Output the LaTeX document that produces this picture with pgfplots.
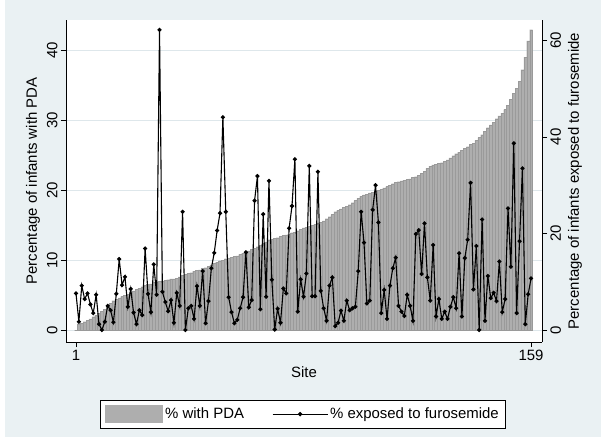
\documentclass[border=0pt]{standalone}
\usepackage{pgfplots}
\pgfplotsset{compat=1.18}
\usepackage{pgfplotstable}
\usepackage{fontspec}
\setmainfont{Liberation Sans}

\definecolor{bgblue}{RGB}{234,241,243}
\definecolor{gridc}{RGB}{222,231,235}
\definecolor{barfill}{RGB}{174,174,174}
\definecolor{baredge}{RGB}{154,154,154}

% site, % with PDA (left axis), % exposed to furosemide (right axis)
\pgfplotstableread{
site pda furo
1 0.0 7.6
2 0.9 1.7
3 1.0 9.2
4 1.2 6.4
5 1.4 7.6
6 1.6 5.3
7 1.9 3.5
8 2.1 7.3
9 2.4 1.2
10 2.7 0.0
11 3.0 1.7
12 3.4 5.0
13 3.8 4.1
14 4.2 1.6
15 4.4 7.5
16 4.6 14.7
17 4.8 9.3
18 5.0 11.0
19 5.1 4.8
20 5.4 8.5
21 5.6 3.6
22 5.8 1.2
23 6.0 4.1
24 6.2 3.1
25 6.4 16.9
26 6.5 7.5
27 6.6 3.7
28 6.8 13.6
29 6.9 7.3
30 7.0 62.2
31 7.0 7.9
32 7.1 5.8
33 7.2 3.9
34 7.3 6.2
35 7.3 1.5
36 7.4 7.7
37 7.6 5.0
38 7.8 24.5
39 8.0 0.0
40 8.1 4.5
41 8.2 5.0
42 8.4 2.3
43 8.5 9.1
44 8.6 5.0
45 8.8 12.2
46 8.9 1.4
47 9.1 6.0
48 9.3 12.8
49 9.5 16.0
50 9.7 20.6
51 9.9 24.2
52 10.0 44.1
53 10.2 24.5
54 10.3 6.8
55 10.4 3.7
56 10.5 1.4
57 10.6 2.1
58 10.8 4.5
59 11.0 6.8
60 11.1 16.1
61 11.3 4.7
62 11.5 6.2
63 11.7 26.8
64 11.9 31.9
65 12.1 4.3
66 12.4 24.0
67 12.6 6.9
68 12.9 30.9
69 13.0 10.4
70 13.1 0.1
71 13.2 4.4
72 13.4 1.5
73 13.5 8.6
74 13.6 7.6
75 13.7 21.1
76 13.9 25.7
77 14.0 35.4
78 14.2 3.8
79 14.4 10.5
80 14.6 6.9
81 14.7 11.7
82 14.8 34.0
83 15.0 7.0
84 15.1 7.0
85 15.3 32.8
86 15.4 8.1
87 15.6 4.5
88 15.9 1.9
89 16.2 9.2
90 16.5 10.9
91 16.9 0.8
92 17.1 1.5
93 17.3 4.0
94 17.5 1.9
95 17.7 6.1
96 17.9 4.1
97 18.2 4.5
98 18.5 4.8
99 18.8 12.2
100 19.1 24.5
101 19.3 18.1
102 19.4 5.5
103 19.6 6.1
104 19.7 24.9
105 19.9 30.0
106 20.0 22.3
107 20.1 3.5
108 20.3 8.3
109 20.5 2.3
110 20.7 9.2
111 20.9 12.8
112 21.1 15.0
113 21.2 5.0
114 21.3 3.8
115 21.4 2.9
116 21.5 7.3
117 21.6 5.0
118 21.8 1.9
119 21.9 19.9
120 22.1 20.7
121 22.4 11.6
122 22.7 22.1
123 23.1 10.9
124 23.4 6.1
125 23.6 17.6
126 23.7 2.8
127 23.8 6.4
128 23.9 2.3
129 24.1 3.8
130 24.3 2.3
131 24.6 4.8
132 24.9 6.8
133 25.2 4.5
134 25.4 15.9
135 25.7 2.8
136 26.0 14.9
137 26.2 18.7
138 26.5 30.5
139 26.7 8.4
140 27.1 17.4
141 27.5 0.0
142 27.9 22.9
143 28.4 1.9
144 28.9 11.2
145 29.3 6.6
146 29.7 7.7
147 30.2 6.0
148 30.6 14.2
149 31.0 3.7
150 31.5 6.4
151 32.1 25.2
152 33.0 13.1
153 33.8 38.7
154 34.5 3.5
155 35.5 18.4
156 37.2 33.5
157 39.0 1.2
158 41.3 7.4
159 42.9 10.7
}\sitedata

\begin{document}
\begin{tikzpicture}[font=\fontsize{15}{18}\selectfont]
\fill[white] (0bp,0bp) rectangle (606bp,443bp);
\fill[bgblue] (5bp,6bp) rectangle (601bp,443bp);

\pgfplotsset{
  site axis/.style={
    at={(66bp,101bp)}, anchor=south west,
    scale only axis, width=476bp, height=322bp,
    xmin=-2.47, xmax=162.8,
    tick align=outside, major tick length=5bp,
    axis line style={-, black, line width=0.8bp},
    every tick/.style={black, line width=0.8bp},
    /pgf/number format/assume math mode=true,
    tick label style={font=\fontsize{15}{18}\selectfont},
    label style={font=\fontsize{15}{18}\selectfont},
  }
}

\begin{axis}[site axis,
  ymin=-1.71, ymax=44.29,
  axis y line*=left, axis x line*=bottom,
  axis background/.style={fill=white},
  xtick={1,159}, ytick={0,10,20,30,40},
  ymajorgrids, grid style={gridc, line width=0.8bp},
  yticklabel style={rotate=90, anchor=south},
  xlabel={Site},
  ylabel={Percentage of infants with PDA},
  xlabel style={yshift=1bp},
]
\addplot[ybar, bar width=1, fill=barfill, draw=baredge, line width=0.2bp]
  table[x=site, y=pda] {\sitedata};
\end{axis}

\begin{axis}[site axis,
  ymin=-2.49, ymax=64.25,
  axis y line*=right, axis x line=none,
  ytick={0,20,40,60},
  yticklabel style={rotate=90, anchor=north},
  ylabel={Percentage of infants exposed to furosemide},
  legend columns=2,
  legend style={at={(0.498,-0.224)}, anchor=center, draw=black, fill=white,
    line width=0.8bp, inner xsep=5bp, inner ysep=5bp,
    /tikz/every even column/.append style={column sep=26bp},
    font=\fontsize{15}{18}\selectfont, cells={anchor=west}},
]
\addlegendimage{legend image code/.code={
  \fill[barfill] (0bp,-8.5bp) rectangle (57bp,8.5bp);}}
\addlegendentry{\% with PDA}
\addplot[black, line width=1.1bp, mark=*, mark size=1.5bp,
  legend image code/.code={
    \draw[black, line width=1.1bp] (0bp,0bp) -- (55bp,0bp);
    \fill[black] (27.5bp,0bp) circle (1.6bp);}]
  table[x=site, y=furo] {\sitedata};
\addlegendentry{\% exposed to furosemide}
\end{axis}
\end{tikzpicture}
\end{document}
